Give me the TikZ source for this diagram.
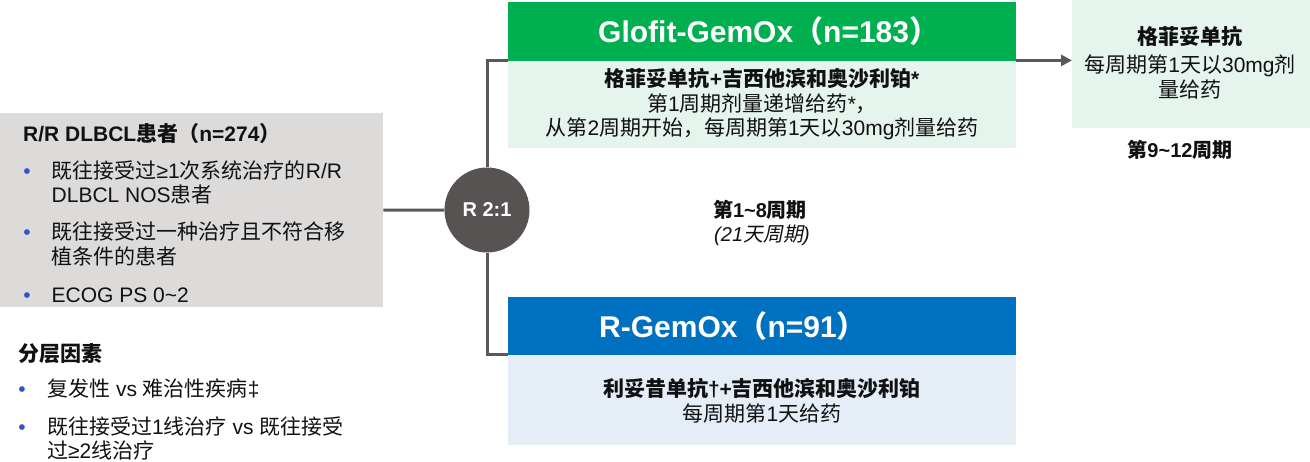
\documentclass[tikz,border=0pt]{standalone}
\usepackage{fontspec}
\setmainfont{Liberation Sans}
\newfontfamily\cjk{Noto Sans CJK SC}
\newfontfamily\cjkit[FakeSlant=0.2]{Noto Sans CJK SC}
\newcommand\zh[1]{{\cjk #1}}
\newcommand\zhi[1]{{\cjkit #1}}
\usetikzlibrary{arrows.meta}
\definecolor{greybox}{HTML}{DDDBDA}
\definecolor{gstrong}{HTML}{00B050}
\definecolor{glight}{HTML}{E5F4EC}
\definecolor{bstrong}{HTML}{0070C0}
\definecolor{blight}{HTML}{E5EDF7}
\definecolor{circ}{HTML}{575352}
\definecolor{conncol}{HTML}{595959}
\definecolor{bulcol}{HTML}{2D55D0}
\definecolor{txtcol}{HTML}{111111}
\begin{document}
\begin{tikzpicture}[x=1pt,y=-1pt,
  box/.style={draw=none,rectangle,inner sep=0pt,anchor=north west},
  conn/.style={draw=conncol,line width=3pt},
  txt/.style={inner sep=0pt,anchor=base west,text=txtcol,font=\fontsize{21}{25}\selectfont},
  ctxt/.style={txt,anchor=base},
  btxt/.style={txt,font=\fontsize{21}{25}\selectfont\bfseries},
  cbtxt/.style={ctxt,font=\fontsize{21}{25}\selectfont\bfseries},
  head/.style={inner sep=0pt,anchor=base west,text=white,font=\fontsize{30}{34}\selectfont\bfseries},
  bul/.style={inner sep=0pt,anchor=base,text=bulcol,font=\fontsize{21}{21}\selectfont}
]
\useasboundingbox (0,0) rectangle (1310,462);

% boxes
\node[box,fill=greybox,minimum width=383pt,minimum height=194pt] (pat) at (0,113) {};
\node[box,fill=gstrong,minimum width=508pt,minimum height=59pt] (gh) at (508,2) {};
\node[box,fill=glight,minimum width=508pt,minimum height=87pt] (gb) at (508,61) {};
\node[box,fill=bstrong,minimum width=508pt,minimum height=58pt] (bh) at (508,297) {};
\node[box,fill=blight,minimum width=508pt,minimum height=90pt] (bb) at (508,355) {};
\node[box,fill=glight,minimum width=238pt,minimum height=128pt] (rb) at (1072,0) {};
\node[circle,fill=circ,minimum size=85pt,inner sep=0pt,text=white,
      font=\fontsize{20}{24}\selectfont\bfseries] (rand) at (487,210) {R 2:1};

% connectors
\coordinate (ah) at ([yshift=1pt]gh.south east);
\draw[conn] (pat.east) -- (rand.west);
\draw[conn] (rand.north) |- ([yshift=1pt]gh.south west);
\draw[conn] (rand.south) |- ([yshift=1pt]bh.south west);
\draw[conn,-{Triangle[length=11pt,width=11pt]}] (ah) -- (ah -| rb.west);

% patient box text
\node[btxt] (pt) at (23,142) {R/R DLBCL\zh{患者（}n=274\zh{）}};
\node[bul] (pb1) at (27,179) {•};
\node[txt] (p1a) at (51.5,179) {\zh{既往接受过}≥1\zh{次系统治疗的}R/R};
\node[txt] (p1b) at (51.5,203) {DLBCL NOS\zh{患者}};
\node[bul] (pb2) at (27,240) {•};
\node[txt] (p2a) at (51.5,240) {\zh{既往接受过一种治疗且不符合移}};
\node[txt] (p2b) at (51.5,265) {\zh{植条件的患者}};
\node[bul] (pb3) at (27,303) {•};
\node[txt] (p3) at (51.5,303) {ECOG PS 0\textasciitilde 2};

% stratification
\node[btxt] (st) at (18,362) {\zh{分层因素}};
\node[bul] (sb1) at (22,397) {•};
\node[txt] (s1) at (47,397) {\zh{复发性} vs \zh{难治性疾病}‡};
\node[bul] (sb2) at (22,435) {•};
\node[txt] (s2a) at (47,435) {\zh{既往接受过}1\zh{线治疗} vs \zh{既往接受}};
\node[txt] (s2b) at (47,458) {\zh{过}≥2\zh{线治疗}};

% green arm
\node[head] (ght) at (598,43) {Glofit-GemOx\zh{（}n=183\zh{）}};
\node[cbtxt] (g1) at (762,87) {\zh{格菲妥单抗}+\zh{吉西他滨和奥沙利铂}*};
\node[ctxt] (g2) at (762,112) {\zh{第}1\zh{周期剂量递增给药}*\zh{，}};
\node[ctxt] (g3) at (762,136) {\zh{从第}2\zh{周期开始，每周期第}1\zh{天以}30mg\zh{剂量给药}};

% blue arm
\node[head] (bht) at (599,338) {R-GemOx\zh{（}n=91\zh{）}};
\node[cbtxt] (b1) at (762,396) {\zh{利妥昔单抗}†+\zh{吉西他滨和奥沙利铂}};
\node[ctxt] (b2) at (762,421) {\zh{每周期第}1\zh{天给药}};

% right box
\node[cbtxt] (r1) at (1190,45) {\zh{格菲妥单抗}};
\node[ctxt] (r2) at (1190,73) {\zh{每周期第}1\zh{天以}30mg\zh{剂}};
\node[ctxt] (r3) at (1190,98) {\zh{量给药}};
\node[ctxt,font=\fontsize{20}{24}\selectfont\bfseries] (r4) at (1180,158) {\zh{第}9\textasciitilde 12\zh{周期}};

% cycle labels
\node[ctxt,font=\fontsize{20}{24}\selectfont\bfseries] (c1) at (760,218) {\zh{第}1\textasciitilde 8\zh{周期}};
\node[ctxt,font=\fontsize{20}{24}\selectfont\itshape] (c2) at (762,242) {(21\zhi{天周期})};
\end{tikzpicture}
\end{document}
